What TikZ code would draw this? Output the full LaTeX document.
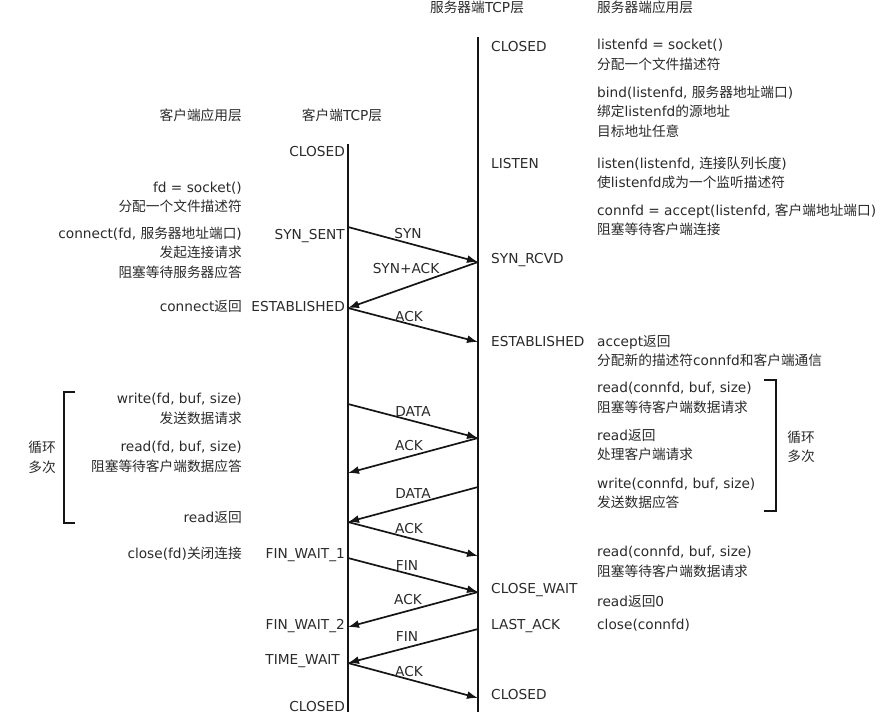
\documentclass[tikz,border=0pt]{standalone}
\usepackage{fontspec}
\setmainfont{DejaVu Sans}
\newfontfamily\cjkfont{Noto Sans CJK SC}
\newcommand\hz[1]{{\cjkfont #1}}
\usetikzlibrary{arrows.meta}
\definecolor{txt}{HTML}{2A2A2A}
\definecolor{lc}{HTML}{151515}
\begin{document}
\begin{tikzpicture}[x=1pt,y=-1pt,
  every node/.style={inner sep=0pt, text=txt, font=\fontsize{13.7}{19.5}\selectfont},
  lbl/.style={anchor=base west, align=left},
  rlbl/.style={anchor=base east, align=right},
  clbl/.style={anchor=base, align=center},
  mlbl/.style={anchor=center},
  life/.style={line width=2.6pt, draw=lc},
  msg/.style={line width=1.7pt, draw=lc, -{Latex[length=11pt,width=8pt]}},
  brk/.style={line width=1.8pt, draw=lc}]
\useasboundingbox (0,0) rectangle (882,723);

% lifelines
\coordinate (ctop) at (348,144);
\coordinate (cbot) at (348,712);
\coordinate (stop) at (478,37);
\coordinate (sbot) at (478,712);
\draw[life] (ctop) -- (cbot);
\draw[life] (stop) -- (sbot);

% headers
\node[clbl] (hST) at (477,12) {\hz{服务器端}TCP\hz{层}};
\node[lbl] (hSA) at (597,12) {\hz{服务器端应用层}};
\node[rlbl] (hCA) at (242,120) {\hz{客户端应用层}};
\node[clbl] (hCT) at (342,120) {\hz{客户端}TCP\hz{层}};

% client states
\node[rlbl] (cs1) at (345,156) {CLOSED};
\node[rlbl] (cs2) at (345,239) {SYN\_SENT};
\node[rlbl] (cs3) at (345,311) {ESTABLISHED};
\node[rlbl] (cs4) at (345,558) {FIN\_WAIT\_1};
\node[rlbl] (cs5) at (345,629) {FIN\_WAIT\_2};
\node[rlbl] (cs6) at (340,664) {TIME\_WAIT};
\node[rlbl] (cs7) at (345,711) {CLOSED};

% server states
\node[lbl] (ss1) at (491,51) {CLOSED};
\node[lbl] (ss2) at (491,168) {LISTEN};
\node[lbl] (ss3) at (491,263) {SYN\_RCVD};
\node[lbl] (ss4) at (491,346) {ESTABLISHED};
\node[lbl] (ss5) at (491,593) {CLOSE\_WAIT};
\node[lbl] (ss6) at (491,629) {LAST\_ACK};
\node[lbl] (ss7) at (491,699) {CLOSED};

% client application (base = last line)
\node[rlbl] (ca1) at (242,211.5) {fd = socket()\\\hz{分配一个文件描述符}};
\node[rlbl] (ca2) at (242,277) {connect(fd, \hz{服务器地址端口})\\\hz{发起连接请求}\\\hz{阻塞等待服务器应答}};
\node[rlbl] (ca3) at (242,311) {connect\hz{返回}};
\node[rlbl] (ca4) at (242,423) {write(fd, buf, size)\\\hz{发送数据请求}};
\node[rlbl] (ca5) at (242,471) {read(fd, buf, size)\\\hz{阻塞等待客户端数据应答}};
\node[rlbl] (ca6) at (242,522) {read\hz{返回}};
\node[rlbl] (ca7) at (242,558) {close(fd)\hz{关闭连接}};

% server application (base = last line)
\node[lbl] (sa1) at (597,69) {listenfd = socket()\\\hz{分配一个文件描述符}};
\node[lbl] (sa2) at (597,136) {bind(listenfd, \hz{服务器地址端口})\\\hz{绑定}listenfd\hz{的源地址}\\\hz{目标地址任意}};
\node[lbl] (sa3) at (597,187.5) {listen(listenfd, \hz{连接队列长度})\\\hz{使}listenfd\hz{成为一个监听描述符}};
\node[lbl] (sa4) at (597,234.5) {connfd = accept(listenfd, \hz{客户端地址端口})\\\hz{阻塞等待客户端连接}};
\node[lbl] (sa5) at (597,365.5) {accept\hz{返回}\\\hz{分配新的描述符}connfd\hz{和客户端通信}};
\node[lbl] (sa6) at (597,412) {read(connfd, buf, size)\\\hz{阻塞等待客户端数据请求}};
\node[lbl] (sa7) at (597,459.5) {read\hz{返回}\\\hz{处理客户端请求}};
\node[lbl] (sa8) at (597,507.5) {write(connfd, buf, size)\\\hz{发送数据应答}};
\node[lbl] (sa9) at (597,576) {read(connfd, buf, size)\\\hz{阻塞等待客户端数据请求}};
\node[lbl] (sa10) at (597,606) {read\hz{返回}0};
\node[lbl] (sa11) at (597,629) {close(connfd)};

% loop brackets
\coordinate (lb1) at (75,392);
\coordinate (lb2) at (64,392);
\coordinate (lb3) at (64,523);
\coordinate (lb4) at (75,523);
\draw[brk] (lb1) -- (lb2) -- (lb3) -- (lb4);
\node[clbl] (loopL) at (42,472) {\hz{循环}\\\hz{多次}};
\coordinate (rb1) at (764,380);
\coordinate (rb2) at (776,380);
\coordinate (rb3) at (776,511);
\coordinate (rb4) at (764,511);
\draw[brk] (rb1) -- (rb2) -- (rb3) -- (rb4);
\node[clbl] (loopR) at (801,461.5) {\hz{循环}\\\hz{多次}};

% message end points
\coordinate (c1) at (348,227);
\coordinate (s1) at (478,262);
\coordinate (c2) at (348,308);
\coordinate (s2) at (478,342);
\coordinate (c3) at (348,404);
\coordinate (s3) at (478,438);
\coordinate (c4) at (348,473);
\coordinate (s4) at (478,487);
\coordinate (c5) at (348,522);
\coordinate (s5) at (478,556);
\coordinate (c6) at (348,558);
\coordinate (s6) at (478,592);
\coordinate (c7) at (348,627);
\coordinate (s7) at (478,629);
\coordinate (c8) at (348,663);
\coordinate (s8) at (478,698);

\draw[msg] (c1) -- (s1);
\draw[msg] (s1) -- (c2);
\draw[msg] (c2) -- (s2);
\draw[msg] (c3) -- (s3);
\draw[msg] (s3) -- (c4);
\draw[msg] (s4) -- (c5);
\draw[msg] (c5) -- (s5);
\draw[msg] (c6) -- (s6);
\draw[msg] (s6) -- (c7);
\draw[msg] (s7) -- (c8);
\draw[msg] (c8) -- (s8);

% message labels
\node[mlbl] (m1) at (408,234) {SYN};
\node[mlbl] (m2) at (406,269) {SYN+ACK};
\node[mlbl] (m3) at (409,317) {ACK};
\node[mlbl] (m4) at (413,411) {DATA};
\node[mlbl] (m5) at (409,446) {ACK};
\node[mlbl] (m6) at (413,493) {DATA};
\node[mlbl] (m7) at (409,529) {ACK};
\node[mlbl] (m8) at (407,565) {FIN};
\node[mlbl] (m9) at (408,600) {ACK};
\node[mlbl] (m10) at (407,636) {FIN};
\node[mlbl] (m11) at (409,672) {ACK};
\end{tikzpicture}
\end{document}
